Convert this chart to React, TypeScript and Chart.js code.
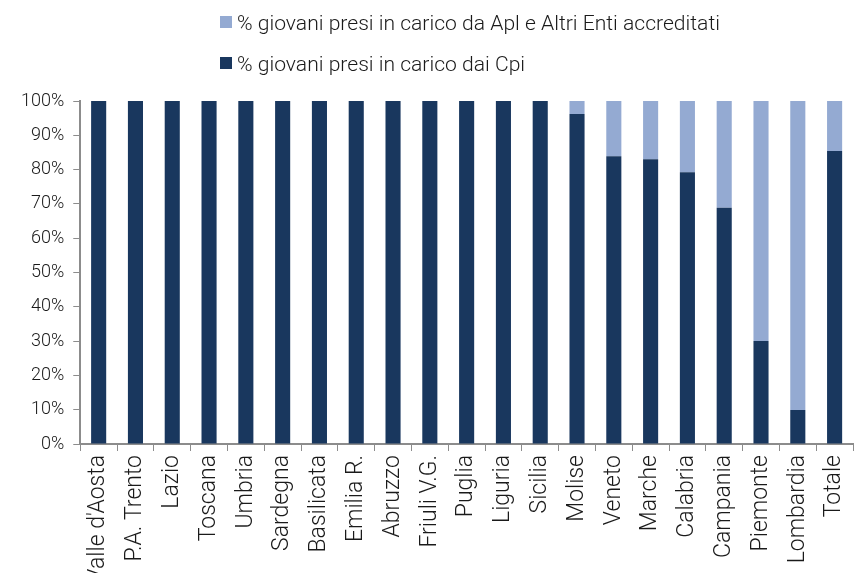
import React, { useEffect, useRef } from "react";
import { Chart, registerables } from "chart.js";

Chart.register(...registerables);

const categories = [
  "Valle d'Aosta", "P.A. Trento", "Lazio", "Toscana", "Umbria", "Sardegna",
  "Basilicata", "Emilia R.", "Abruzzo", "Friuli V.G.", "Puglia", "Liguria",
  "Sicilia", "Molise", "Veneto", "Marche", "Calabria", "Campania",
  "Piemonte", "Lombardia", "Totale",
];
const cpiValues = [
  100, 100, 100, 100, 100, 100, 100, 100, 100, 100, 100, 100, 100,
  96.2, 83.9, 83.0, 79.2, 68.9, 30.0, 9.9, 85.4,
];
const aplValues = [
  0, 0, 0, 0, 0, 0, 0, 0, 0, 0, 0, 0, 0,
  3.8, 16.1, 17.0, 20.8, 31.1, 70.0, 90.1, 14.6,
];
const yTicks = [0, 10, 20, 30, 40, 50, 60, 70, 80, 90, 100];

const labelCpi = "% giovani presi in carico dai Cpi";
const labelApl = "% giovani presi in carico da Apl e Altri Enti accreditati";

const DARK = "#19375E";
const LIGHT = "#94AAD2";
const FONT = "'Roboto', sans-serif";
const TEXT = "#1a1a1a";
const AXIS = "#8c8c8c";

export default function App() {
  const ref = useRef<HTMLCanvasElement | null>(null);

  useEffect(() => {
    if (!ref.current) return;
    const chart = new Chart(ref.current, {
      type: "bar",
      data: {
        labels: categories,
        datasets: [
          { label: labelCpi, data: cpiValues, backgroundColor: DARK, barPercentage: 0.41, categoryPercentage: 1 },
          { label: labelApl, data: aplValues, backgroundColor: LIGHT, barPercentage: 0.41, categoryPercentage: 1 },
        ],
      },
      options: {
        animation: false,
        responsive: false,
        maintainAspectRatio: false,
        layout: { padding: { top: 101, right: 3, left: 12, bottom: 0 } },
        plugins: { legend: { display: false }, tooltip: { enabled: false } },
        scales: {
          x: {
            stacked: true,
            grid: { display: true, drawOnChartArea: false, drawTicks: true, tickLength: 7, color: AXIS, offset: true },
            border: { display: true, color: AXIS, width: 2 },
            ticks: {
              autoSkip: false, minRotation: 90, maxRotation: 90, padding: 4,
              color: TEXT, font: { family: FONT, size: 23, weight: 300 },
            },
            afterFit: (scale: any) => {
              scale.height = 129;
              scale.paddingLeft = 0;
              scale.paddingRight = 0;
            },
          },
          y: {
            stacked: true,
            min: 0, max: 100,
            afterBuildTicks: (scale: any) => { scale.ticks = yTicks.map((v) => ({ value: v })); },
            grid: { display: true, drawOnChartArea: false, drawTicks: true, tickLength: 7, color: AXIS },
            border: { display: true, color: AXIS, width: 2 },
            ticks: {
              padding: 9, color: TEXT, font: { family: FONT, size: 18, weight: 300 },
              callback: (v: any) => v + "%",
            },
          },
        },
      },
    });
    return () => chart.destroy();
  }, []);

  const legendItem = (color: string, text: string, top: number) => (
    <div style={{ position: "absolute", left: 220, top, display: "flex", alignItems: "center", height: 22 }}>
      <div style={{ width: 12, height: 12, background: color, marginRight: 5 }} />
      <span style={{ fontFamily: FONT, fontWeight: 300, fontSize: 21.1, color: TEXT, whiteSpace: "nowrap" }}>{text}</span>
    </div>
  );

  return (
    <div style={{ position: "fixed", left: 0, top: 0, width: 856, height: 573, background: "#fff" }}>
      <canvas ref={ref} width={856} height={573} style={{ position: "absolute", left: 0, top: 0 }} />
      {legendItem(LIGHT, labelApl, 11)}
      {legendItem(DARK, labelCpi, 52)}
    </div>
  );
}
